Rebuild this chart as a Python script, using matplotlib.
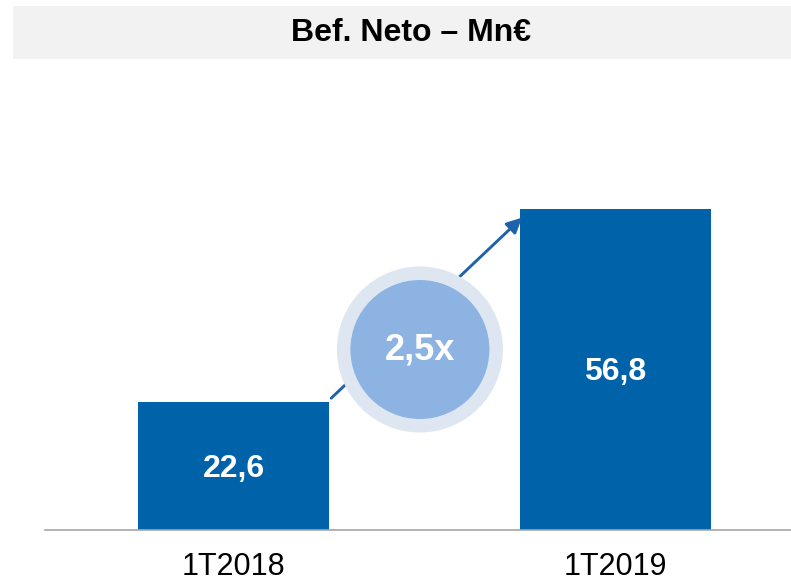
import matplotlib
matplotlib.use("Agg")
import matplotlib.pyplot as plt
from matplotlib.patches import Rectangle

plt.rcParams['font.family'] = ['Liberation Sans', 'DejaVu Sans']

periods = ['1T2018', '1T2019']
values = [22.6, 56.8]
value_labels = ['22,6', '56,8']
growth_label = '2,5x'
title = 'Bef. Neto – Mn€'

BAR = '#0062A9'
CIRCLE_IN = '#8DB3E2'
CIRCLE_OUT = '#DDE6F1'

fig = plt.figure(figsize=(7.91, 5.85), dpi=100)
fig.patch.set_facecolor('white')

# title band
fig.patches.append(Rectangle((13 / 791, 1 - 59 / 585), 1 - 13 / 791, 53 / 585,
                             transform=fig.transFigure, facecolor='#F2F2F2',
                             edgecolor='none', zorder=0))
fig.text(411 / 791, 1 - 33 / 585, title, ha='center', va='center',
         fontsize=23, fontweight='bold', color='black')

ax = fig.add_axes([45 / 791, 55 / 585, 1 - 45 / 791, 430 / 585])
x = list(range(len(periods)))
ax.bar(x, values, width=0.5, color=BAR, zorder=2)
ax.set_xlim(-0.495, 1.46)
ax.set_ylim(0, 76)

for xi, v, lab in zip(x, values, value_labels):
    ax.text(xi, v / 2 - 0.5, lab, ha='center', va='center', color='white',
            fontsize=23, fontweight='bold', zorder=5)

# growth arrow
ax.annotate('', xy=(0.755, 55.2), xytext=(0.255, 23.3),
            arrowprops=dict(arrowstyle='-|>,head_length=0.9,head_width=0.45',
                            color='#1F62AA', lw=2.1, shrinkA=0, shrinkB=0),
            zorder=3)

# growth bubble
cx, cy = 0.4875, 31.9
ax.scatter([cx], [cy], s=(166 * 0.72) ** 2, color=CIRCLE_OUT, edgecolors='none', zorder=4)
ax.scatter([cx], [cy], s=(139 * 0.72) ** 2, color=CIRCLE_IN, edgecolors='none', zorder=4)
ax.text(cx, cy, growth_label, ha='center', va='center', color='white',
        fontsize=26, fontweight='bold', zorder=5)

ax.set_xticks(x)
ax.set_xticklabels(periods, fontsize=22)
ax.tick_params(axis='x', length=0, pad=16)
ax.set_yticks([])
for s in ['top', 'left', 'right']:
    ax.spines[s].set_visible(False)
ax.spines['bottom'].set_color('#A6A6A6')
ax.spines['bottom'].set_linewidth(1.2)
ax.set_facecolor('none')

fig.savefig('out.png', dpi=100)
